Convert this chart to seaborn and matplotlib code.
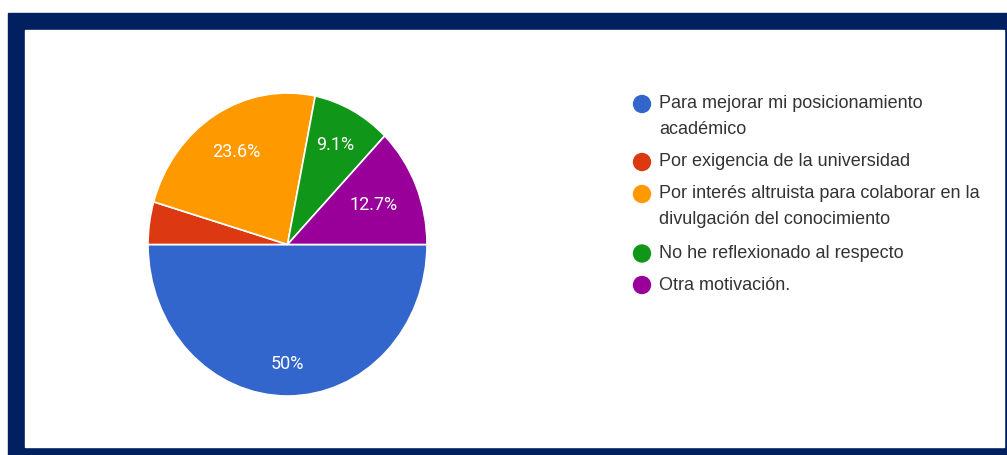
import matplotlib
matplotlib.use("Agg")
import matplotlib.pyplot as plt
import seaborn as sns
import numpy as np
from matplotlib.patches import Rectangle

sns.set_theme(style="white")
plt.rcParams["font.family"] = ["Liberation Sans", "DejaVu Sans"]

# Survey answers (counts) and their legend labels
categories = [
    "Para mejorar mi posicionamiento\nacadémico",
    "Por exigencia de la universidad",
    "Por interés altruista para colaborar en la\ndivulgación del conocimiento",
    "No he reflexionado al respecto",
    "Otra motivación.",
]
counts = [55, 5, 26, 10, 14]
colors = ["#3366cc", "#dc3912", "#ff9900", "#109618", "#990099"]

W, H = 1007, 455
fig = plt.figure(figsize=(W / 100, H / 100), dpi=100)
fig.patch.set_facecolor("white")

# Navy frame with white panel
navy = "#00205f"
fig.patches.append(Rectangle((8 / W, 0), (W - 8) / W, (H - 13) / H,
                             transform=fig.transFigure, color=navy, zorder=-2))
fig.patches.append(Rectangle((25 / W, (H - 447) / H), (1004 - 25) / W, (447 - 30) / H,
                             transform=fig.transFigure, color="white", zorder=-1))


def pct_label(p):
    if p < 5:
        return ""
    return f"{p:.1f}".rstrip("0").rstrip(".") + "%"


# Pie, drawn clockwise from 3 o'clock
ax = fig.add_axes([148 / W, (H - 396) / H, 279 / W, 303 / H])
ax.set_zorder(2)
wedges, texts, autotexts = ax.pie(
    counts, colors=colors, startangle=0, counterclock=False,
    autopct=pct_label, pctdistance=0.72,
    wedgeprops=dict(edgecolor="white", linewidth=1.2),
    textprops=dict(color="white", fontsize=13, family=["Roboto", "DejaVu Sans"]),
)
ax.set_aspect("auto")
ax.set_xlim(-1, 1)
ax.set_ylim(-1, 1)
ax.set_facecolor("none")

label_r = [0.79, 0.7, 0.71, 0.74, 0.67]
for w, t, r in zip(wedges, autotexts, label_r):
    mid = np.deg2rad((w.theta1 + w.theta2) / 2)
    t.set_position((r * np.cos(mid), r * np.sin(mid)))

# Legend drawn in pixel space
lax = fig.add_axes([0, 0, 1, 1])
lax.set_zorder(3)
lax.set_xlim(0, W)
lax.set_ylim(H, 0)
lax.axis("off")
lax.patch.set_alpha(0)
row_y = [104, 162, 194, 253.5, 285]
line_gap = 26
for lab, col, y in zip(categories, colors, row_y):
    lax.scatter([642], [y], s=175, color=col, edgecolors="none")
    for i, line in enumerate(lab.split("\n")):
        lax.text(659, y + i * line_gap, line, va="center", ha="left",
                 fontsize=13, color="#333333")

fig.savefig("out.png", dpi=100, facecolor=fig.get_facecolor())
